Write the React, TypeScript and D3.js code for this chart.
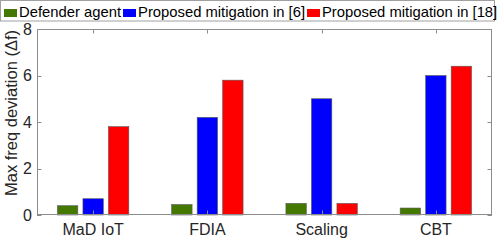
import React, { useRef, useEffect } from 'react';
import * as d3 from 'd3';

const categories = ['MaD IoT', 'FDIA', 'Scaling', 'CBT'];
const seriesNames = ['Defender agent', 'Proposed mitigation in [6]', 'Proposed mitigation in [18]'];
const defenderAgent = [0.4, 0.45, 0.5, 0.3];
const mitigation6 = [0.7, 4.2, 5.0, 6.0];
const mitigation18 = [3.8, 5.8, 0.5, 6.4];
const yTicks = [0, 2, 4, 6, 8];
const colors = ['#457800', '#0000ff', '#ff0000'];

const BarChart = () => {
  const svgRef = useRef<SVGSVGElement | null>(null);

  useEffect(() => {
    const width = 498;
    const height = 241;
    const plot = { left: 37, right: 492, top: 29, bottom: 215 };
    const font = 'Liberation Sans, Arial, Helvetica, sans-serif';
    const axisColor = '#8c8c8c';
    const textColor = '#262626';
    const values = [defenderAgent, mitigation6, mitigation18];

    const svg = d3.select(svgRef.current);
    svg.selectAll('*').remove();
    svg.attr('width', width).attr('height', height);

    const x = d3.scaleBand()
      .domain(categories)
      .range([36, 493]);

    const sub = d3.scaleBand()
      .domain(seriesNames)
      .range([0, x.bandwidth()])
      .paddingInner(0.2)
      .paddingOuter(0.84);

    const y = d3.scaleLinear()
      .domain([0, 8])
      .range([plot.bottom, plot.top]);

    // fond blanc des axes
    svg.append('rect')
      .attr('x', plot.left).attr('y', plot.top)
      .attr('width', plot.right - plot.left)
      .attr('height', plot.bottom - plot.top)
      .attr('fill', 'white');

    // barres
    seriesNames.forEach((s, si) => {
      svg.append('g')
        .selectAll('rect')
        .data(categories)
        .join('rect')
        .attr('x', c => x(c)! + sub(s)!)
        .attr('y', (c, i) => y(values[si][i]))
        .attr('width', sub.bandwidth())
        .attr('height', (c, i) => y(0) - y(values[si][i]))
        .attr('fill', colors[si])
        .attr('stroke', '#5a5a5a')
        .attr('stroke-width', 0.6);
    });

    // cadre
    svg.append('rect')
      .attr('x', plot.left + 0.5).attr('y', plot.top + 0.5)
      .attr('width', plot.right - plot.left - 1)
      .attr('height', plot.bottom - plot.top - 1)
      .attr('fill', 'none')
      .attr('stroke', axisColor)
      .attr('stroke-width', 1);

    const tickLen = 4.5;
    categories.forEach(c => {
      const cx = Math.round(x(c)! + x.bandwidth() / 2) + 0.5;
      svg.append('line')
        .attr('x1', cx).attr('x2', cx)
        .attr('y1', plot.bottom).attr('y2', plot.bottom - tickLen)
        .attr('stroke', axisColor);
      svg.append('line')
        .attr('x1', cx).attr('x2', cx)
        .attr('y1', plot.top).attr('y2', plot.top + tickLen)
        .attr('stroke', axisColor);
      svg.append('text')
        .attr('x', x(c)! + x.bandwidth() / 2)
        .attr('y', 235)
        .attr('text-anchor', 'middle')
        .attr('font-family', font)
        .attr('font-size', 16)
        .attr('fill', textColor)
        .text(c);
    });

    yTicks.forEach(t => {
      const ty = Math.round(y(t)) + 0.5;
      svg.append('line')
        .attr('x1', plot.left).attr('x2', plot.left + tickLen)
        .attr('y1', ty).attr('y2', ty)
        .attr('stroke', axisColor);
      svg.append('line')
        .attr('x1', plot.right).attr('x2', plot.right - tickLen)
        .attr('y1', ty).attr('y2', ty)
        .attr('stroke', axisColor);
      svg.append('text')
        .attr('x', 32)
        .attr('y', y(t))
        .attr('dy', '0.36em')
        .attr('text-anchor', 'end')
        .attr('font-family', font)
        .attr('font-size', 16)
        .attr('fill', textColor)
        .text(t);
    });

    svg.append('text')
      .attr('transform', `translate(17,${(plot.top + plot.bottom) / 2 - 9}) rotate(-90)`)
      .attr('text-anchor', 'middle')
      .attr('font-family', font)
      .attr('font-size', 16.5)
      .attr('fill', textColor)
      .text('Max freq deviation (Δf)');

    // légende
    const legend = svg.append('g');
    legend.append('rect')
      .attr('x', 0.5).attr('y', 0.5)
      .attr('width', 494).attr('height', 20.5)
      .attr('fill', 'white')
      .attr('stroke', '#a0a0a0');

    let lx = 4;
    seriesNames.forEach((s, si) => {
      legend.append('rect')
        .attr('x', lx).attr('y', 9)
        .attr('width', 13).attr('height', 8)
        .attr('fill', colors[si]);
      const t = legend.append('text')
        .attr('x', lx + 15)
        .attr('y', 17)
        .attr('font-family', font)
        .attr('font-size', 14.8)
        .attr('fill', '#000')
        .text(s);
      const w = (t.node() as SVGTextElement).getComputedTextLength();
      lx = lx + 15 + w + 2;
    });
  }, []);

  return (
    <div style={{ position: 'absolute', left: 0, top: 0 }}>
      <svg ref={svgRef} style={{ display: 'block' }}></svg>
    </div>
  );
};

export default function App() {
  return <BarChart />;
}
